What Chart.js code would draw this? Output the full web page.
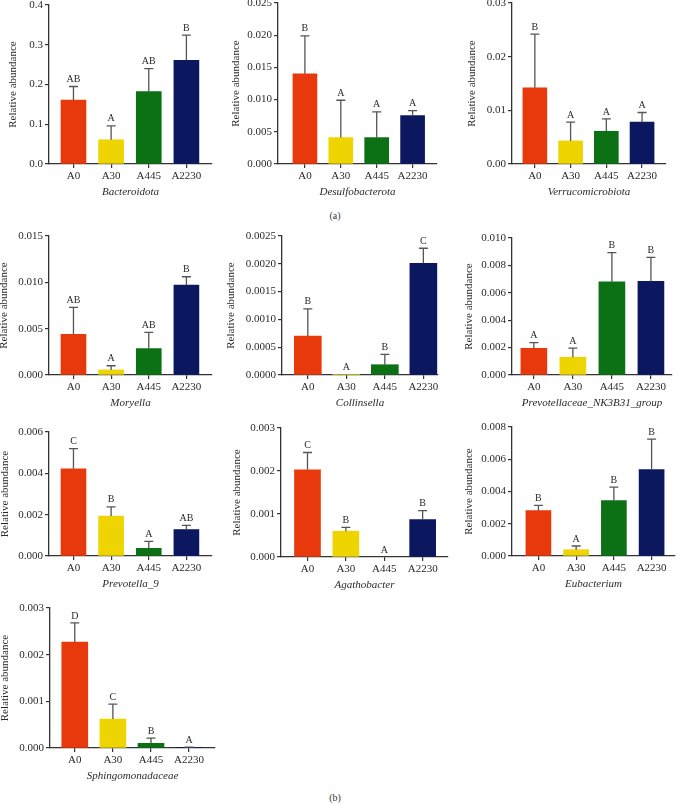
<!DOCTYPE html>
<html>
<head>
<meta charset="utf-8">
<script src="https://cdn.jsdelivr.net/npm/chart.js@4.4.1/dist/chart.umd.min.js"></script>
<style>
  body { margin: 0; background: #fff; }
  #page { position: relative; width: 677px; height: 804px; overflow: hidden; }
  #page canvas { position: absolute; }
  .tag { position: absolute; font: 10px 'Liberation Serif', serif; color: #333; transform: translate(-50%, -50%); }
</style>
</head>
<body>
<div id="page">
  <div class="tag" style="left:335px; top:215px">(a)</div>
  <div class="tag" style="left:335px; top:797px">(b)</div>
</div>
<script>
// groups and taxa
const groups = ['A0', 'A30', 'A445', 'A2230'];
const taxa = ['Bacteroidota', 'Desulfobacterota', 'Verrucomicrobiota', 'Moryella', 'Collinsella',
              'Prevotellaceae_NK3B31_group', 'Prevotella_9', 'Agathobacter', 'Eubacterium', 'Sphingomonadaceae'];

// mean relative abundance per taxon (rows follow taxa, columns follow groups)
const means = [
  [0.161, 0.061, 0.182, 0.261],
  [0.0140, 0.0041, 0.0041, 0.0075],
  [0.0142, 0.0043, 0.0061, 0.0078],
  [0.0044, 0.00055, 0.00285, 0.0097],
  [0.0007, 0.00001, 0.000185, 0.00201],
  [0.00195, 0.0013, 0.0068, 0.00683],
  [0.00422, 0.00193, 0.00037, 0.00128],
  [0.00203, 0.0006, 0, 0.00087],
  [0.00281, 0.00039, 0.00343, 0.00536],
  [0.00227, 0.00062, 0.0001, 0.00001]
];
// upper error bar length
const errors = [
  [0.034, 0.035, 0.058, 0.063],
  [0.0059, 0.0058, 0.0040, 0.0008],
  [0.0100, 0.0035, 0.0023, 0.0018],
  [0.0029, 0.00045, 0.00175, 0.0009],
  [0.00049, 0, 0.000185, 0.00027],
  [0.00042, 0.00066, 0.00213, 0.00176],
  [0.00098, 0.00045, 0.00034, 0.0002],
  [0.0004, 0.00009, 0, 0.00021],
  [0.00033, 0.00023, 0.00084, 0.00189],
  [0.00041, 0.00032, 0.00011, 0.00001]
];
// significance letters
const letters = [
  ['AB', 'A', 'AB', 'B'],
  ['B', 'A', 'A', 'A'],
  ['B', 'A', 'A', 'A'],
  ['AB', 'A', 'AB', 'B'],
  ['B', 'A', 'B', 'C'],
  ['A', 'A', 'B', 'B'],
  ['C', 'B', 'A', 'AB'],
  ['C', 'B', 'A', 'B'],
  ['B', 'A', 'B', 'B'],
  ['D', 'C', 'B', 'A']
];
// y axis ticks
const yMax = [0.4, 0.025, 0.03, 0.015, 0.0025, 0.010, 0.006, 0.003, 0.008, 0.003];
const yStep = [0.1, 0.005, 0.01, 0.005, 0.0005, 0.002, 0.002, 0.001, 0.002, 0.001];
const yDigits = [1, 3, 2, 3, 4, 3, 3, 3, 3, 3];

const barColors = ['#e8390c', '#eed400', '#0b7114', '#0b175e'];
const axisColor = '#333';
const textColor = '#2a2a2a';

// where each panel sits on the page: y axis x, end of x axis, top tick y, zero y,
// x range in category units, y-title distance from the axis, bar width
const frames = [
  { ax: 49,  rx: 212, ty: 5,   zy: 164, lo: -0.65, hi: 3.68, tt: 35, bw: 25 },
  { ax: 278, rx: 437, ty: 3,   zy: 164, lo: -0.75, hi: 3.68, tt: 41, bw: 24 },
  { ax: 512, rx: 666, ty: 3,   zy: 164, lo: -0.64, hi: 3.67, tt: 39, bw: 24 },
  { ax: 49,  rx: 212, ty: 236, zy: 375, lo: -0.65, hi: 3.68, tt: 44, bw: 25 },
  { ax: 282, rx: 438, ty: 236, zy: 375, lo: -0.67, hi: 3.38, tt: 50, bw: 27 },
  { ax: 512, rx: 672, ty: 238, zy: 375, lo: -0.56, hi: 3.54, tt: 42, bw: 26 },
  { ax: 49,  rx: 212, ty: 432, zy: 556, lo: -0.65, hi: 3.68, tt: 43, bw: 25 },
  { ax: 281, rx: 448, ty: 428, zy: 557, lo: -0.69, hi: 3.66, tt: 43, bw: 26 },
  { ax: 512, rx: 675, ty: 427, zy: 556, lo: -0.70, hi: 3.62, tt: 42, bw: 25 },
  { ax: 50,  rx: 215, ty: 608, zy: 748, lo: -0.65, hi: 3.68, tt: 44, bw: 26 }
];

Chart.defaults.font.family = "'Liberation Serif', 'DejaVu Serif', serif";
Chart.defaults.color = textColor;

const padTop = 10, padRight = 6, xAxisH = 35;

// one-sided error bars with the letter on top
function errorBars(k) {
  return {
    id: 'errorBars',
    afterDatasetsDraw(chart) {
      const { ctx, scales: { x, y } } = chart;
      ctx.save();
      groups.forEach((g, i) => {
        const px = x.getPixelForValue(i);
        const yBar = y.getPixelForValue(means[k][i]);
        const yTop = y.getPixelForValue(means[k][i] + errors[k][i]);
        if (errors[k][i] > 0) {
          ctx.strokeStyle = '#555';
          ctx.lineWidth = 1.3;
          ctx.beginPath();
          ctx.moveTo(px, yBar);
          ctx.lineTo(px, yTop);
          ctx.moveTo(px - 4.5, yTop);
          ctx.lineTo(px + 4.5, yTop);
          ctx.stroke();
        }
        ctx.fillStyle = textColor;
        ctx.font = "10px 'Liberation Serif', serif";
        ctx.textAlign = 'center';
        ctx.textBaseline = 'bottom';
        ctx.fillText(letters[k][i], px, yTop - 2);
      });
      ctx.restore();
    }
  };
}

const page = document.getElementById('page');

taxa.forEach((name, k) => {
  const f = frames[k];
  const yW = Math.round(f.tt + 6.6);
  const canvas = document.createElement('canvas');
  canvas.width = yW + (f.rx - f.ax) + padRight;
  canvas.height = (f.zy - f.ty) + padTop + xAxisH;
  canvas.style.left = (f.ax - yW) + 'px';
  canvas.style.top = (f.ty - padTop) + 'px';
  page.appendChild(canvas);

  const gridOpts = { display: true, drawOnChartArea: false, drawTicks: true, tickLength: 4, color: axisColor, lineWidth: 1.2, offset: false };
  const borderOpts = { display: true, color: axisColor, width: 1.3 };

  new Chart(canvas, {
    type: 'bar',
    data: {
      datasets: [{
        data: groups.map((g, i) => ({ x: i, y: means[k][i] })),
        backgroundColor: barColors,
        barThickness: f.bw,
        borderWidth: 0
      }]
    },
    options: {
      responsive: false,
      animation: false,
      layout: { padding: { top: padTop, right: padRight, left: 0, bottom: 0 } },
      plugins: { legend: { display: false }, tooltip: { enabled: false } },
      scales: {
        x: {
          type: 'linear',
          min: f.lo,
          max: f.hi,
          offset: false,
          afterFit: s => { s.height = xAxisH; },
          grid: gridOpts,
          border: borderOpts,
          ticks: {
            stepSize: 1,
            includeBounds: false,
            autoSkip: false,
            maxRotation: 0,
            padding: 2,
            font: { size: 11 },
            callback: v => groups[v] ?? ''
          },
          title: { display: true, text: name, font: { size: 11, style: 'italic' }, padding: 0 }
        },
        y: {
          min: 0,
          max: yMax[k],
          afterFit: s => { s.width = yW; },
          grid: gridOpts,
          border: borderOpts,
          ticks: {
            stepSize: yStep[k],
            padding: 2,
            font: { size: 11 },
            callback: v => Number(v).toFixed(yDigits[k])
          },
          title: { display: true, text: 'Relative abundance', font: { size: 11 }, padding: 0 }
        }
      }
    },
    plugins: [errorBars(k)]
  });
});
</script>
</body>
</html>
